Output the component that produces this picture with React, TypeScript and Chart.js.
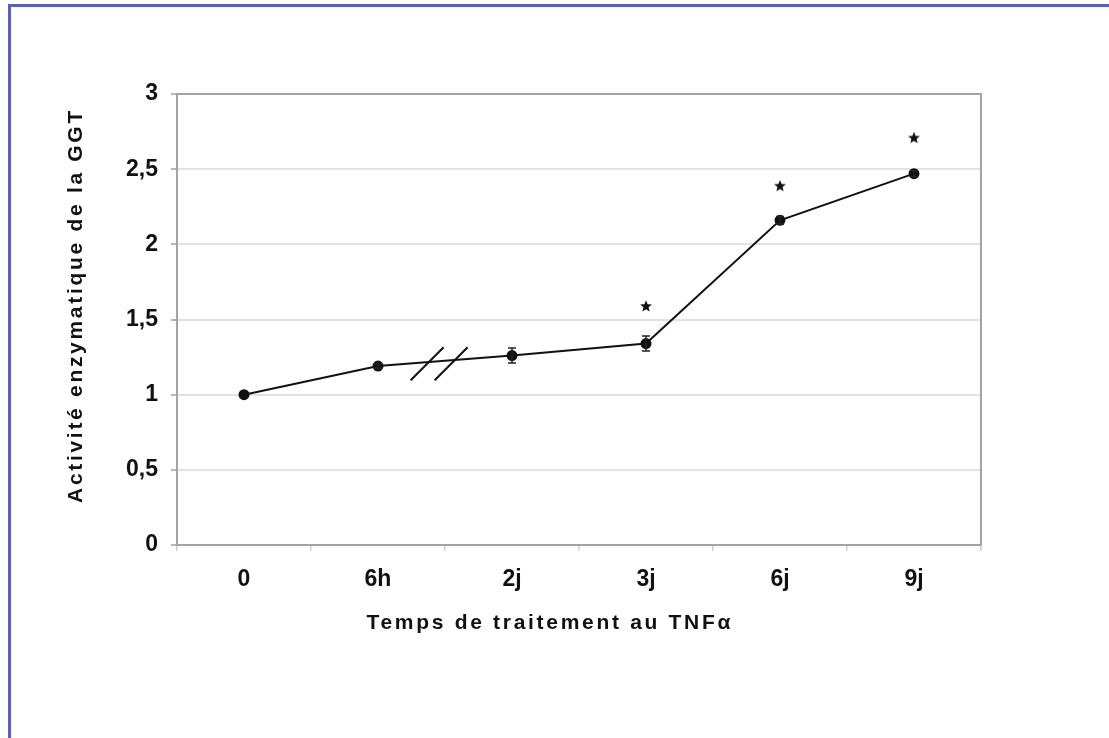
import React, { useEffect, useRef } from 'react';
import { Chart, registerables } from 'chart.js';

Chart.register(...registerables);

const categories = ['0', '6h', '2j', '3j', '6j', '9j'];
const activity = [1.0, 1.19, 1.26, 1.34, 2.16, 2.47];
const errorBars = [0, 0.015, 0.05, 0.05, 0.025, 0.02];
const significance = [null, null, null, 1.59, 2.39, 2.71];
const yMin = 0;
const yMax = 3;
const yStep = 0.5;
const breakAt = 1.46; // axis break between "6h" and "2j", in category units
const xTitle = 'Temps de traitement au TNF\u03b1';
const yTitle = 'Activit\u00e9 enzymatique de la GGT';

const FONT_FAMILY = '"Liberation Sans", Arial, Helvetica, sans-serif';
const TITLE_FONT = `bold 21px ${FONT_FAMILY}`;
const TITLE_SPACING = 2.7;

function makeStar(): HTMLCanvasElement {
  const c = document.createElement('canvas');
  c.width = 14;
  c.height = 14;
  const g = c.getContext('2d')!;
  g.fillStyle = '#111';
  g.beginPath();
  for (let k = 0; k < 10; k++) {
    const r = k % 2 === 0 ? 6.2 : 2.7;
    const a = -Math.PI / 2 + (k * Math.PI) / 5;
    const px = 7 + r * Math.cos(a);
    const py = 7.5 + r * Math.sin(a);
    if (k === 0) g.moveTo(px, py);
    else g.lineTo(px, py);
  }
  g.closePath();
  g.fill();
  return c;
}

function drawSpacedText(ctx: CanvasRenderingContext2D, text: string, cx: number, baseline: number) {
  (ctx as any).letterSpacing = `${TITLE_SPACING}px`;
  ctx.textAlign = 'left';
  ctx.textBaseline = 'alphabetic';
  const w = ctx.measureText(text).width - TITLE_SPACING;
  ctx.fillText(text, cx - w / 2, baseline);
}

const titlesPlugin = {
  id: 'axisTitles',
  afterDraw(chart: any) {
    const { ctx, chartArea: a } = chart;
    const w = a.right - a.left;
    const h = a.bottom - a.top;
    ctx.save();
    ctx.font = TITLE_FONT;
    ctx.fillStyle = '#111';
    drawSpacedText(ctx, xTitle, a.left + w * 0.462, a.bottom + 84);
    ctx.translate(a.left - 95.5, a.top + h * 0.472);
    ctx.rotate(-Math.PI / 2);
    drawSpacedText(ctx, yTitle, 0, 0);
    ctx.restore();
  },
};

const framePlugin = {
  id: 'frame',
  afterDraw(chart: any) {
    const { ctx, chartArea: a } = chart;
    ctx.save();
    ctx.strokeStyle = '#a3a3a3';
    ctx.lineWidth = 2;
    ctx.strokeRect(a.left, a.top, a.right - a.left, a.bottom - a.top);
    ctx.restore();
  },
};

const errorBarPlugin = {
  id: 'errorBars',
  afterDatasetsDraw(chart: any) {
    const { ctx } = chart;
    const xs = chart.scales.x;
    const ys = chart.scales.y;
    ctx.save();
    ctx.strokeStyle = '#222';
    ctx.lineWidth = 1.5;
    activity.forEach((v, i) => {
      const e = errorBars[i];
      if (!e) return;
      const x = xs.getPixelForValue(i);
      const yTop = ys.getPixelForValue(v + e);
      const yBot = ys.getPixelForValue(v - e);
      ctx.beginPath();
      ctx.moveTo(x, yTop);
      ctx.lineTo(x, yBot);
      ctx.moveTo(x - 4, yTop);
      ctx.lineTo(x + 4, yTop);
      ctx.moveTo(x - 4, yBot);
      ctx.lineTo(x + 4, yBot);
      ctx.stroke();
    });
    ctx.restore();
  },
};

const breakPlugin = {
  id: 'axisBreak',
  afterDatasetsDraw(chart: any) {
    const { ctx } = chart;
    const xs = chart.scales.x;
    const ys = chart.scales.y;
    const i0 = Math.floor(breakAt);
    const t = breakAt - i0;
    const v = activity[i0] + (activity[i0 + 1] - activity[i0]) * t;
    const cx = xs.getPixelForValue(breakAt);
    const cy = ys.getPixelForValue(v) + 2;
    ctx.save();
    ctx.strokeStyle = '#111';
    ctx.lineWidth = 2;
    [-12, 12].forEach((dx) => {
      ctx.beginPath();
      ctx.moveTo(cx + dx - 17, cy + 17);
      ctx.lineTo(cx + dx + 16, cy - 16);
      ctx.stroke();
    });
    ctx.restore();
  },
};

export default function App() {
  const canvasRef = useRef<HTMLCanvasElement | null>(null);

  useEffect(() => {
    document.body.style.margin = '0';
    const canvas = canvasRef.current;
    if (!canvas) return;
    const star = makeStar();
    const tickFont = { family: FONT_FAMILY, size: 23, weight: 'bold' as const };
    const chart = new Chart(canvas, {
      type: 'line',
      data: {
        labels: categories,
        datasets: [
          {
            label: 'GGT',
            data: activity,
            borderColor: '#111',
            backgroundColor: '#111',
            borderWidth: 2,
            pointRadius: 4.5,
            pointBackgroundColor: '#111',
            pointBorderColor: '#111',
            tension: 0,
          },
          {
            label: 'significatif',
            data: significance,
            showLine: false,
            pointStyle: star,
            pointRadius: 7,
          },
        ],
      },
      options: {
        animation: false,
        responsive: true,
        maintainAspectRatio: false,
        events: [],
        layout: { padding: { left: 61, top: 94, right: 128, bottom: 94 } },
        plugins: {
          legend: { display: false },
          tooltip: { enabled: false },
          title: { display: false },
        },
        scales: {
          x: {
            type: 'category',
            offset: true,
            afterFit(scale: any) {
              scale.height = 99;
            },
            grid: {
              offset: true,
              drawOnChartArea: false,
              drawTicks: true,
              tickLength: 6,
              tickColor: '#cfcfcf',
              lineWidth: 1.5,
            },
            border: { display: true, color: '#a3a3a3', width: 2 },
            ticks: { color: '#111', font: tickFont, padding: 15, maxRotation: 0 },
          },
          y: {
            min: yMin,
            max: yMax,
            afterFit(scale: any) {
              scale.width = 116;
            },
            ticks: {
              stepSize: yStep,
              color: '#111',
              font: tickFont,
              padding: 13,
              callback: (value: any) => String(value).replace('.', ','),
            },
            grid: {
              color: '#e2e2e2',
              lineWidth: 2,
              drawTicks: true,
              tickLength: 6,
              tickColor: '#b8b8b8',
            },
            border: { display: true, color: '#a3a3a3', width: 2 },
          },
        },
      },
      plugins: [framePlugin, errorBarPlugin, breakPlugin, titlesPlugin],
    });
    return () => chart.destroy();
  }, []);

  return (
    <div style={{ position: 'absolute', left: 0, top: 0, width: 1109, height: 738, background: '#fff' }}>
      <div
        style={{
          position: 'absolute',
          left: 8,
          top: 4,
          right: 0,
          bottom: 0,
          borderTop: '3px solid #5a5fc4',
          borderLeft: '3px solid #5a5fc4',
          pointerEvents: 'none',
        }}
      />
      <canvas ref={canvasRef} style={{ position: 'absolute', left: 0, top: 0 }} />
    </div>
  );
}
